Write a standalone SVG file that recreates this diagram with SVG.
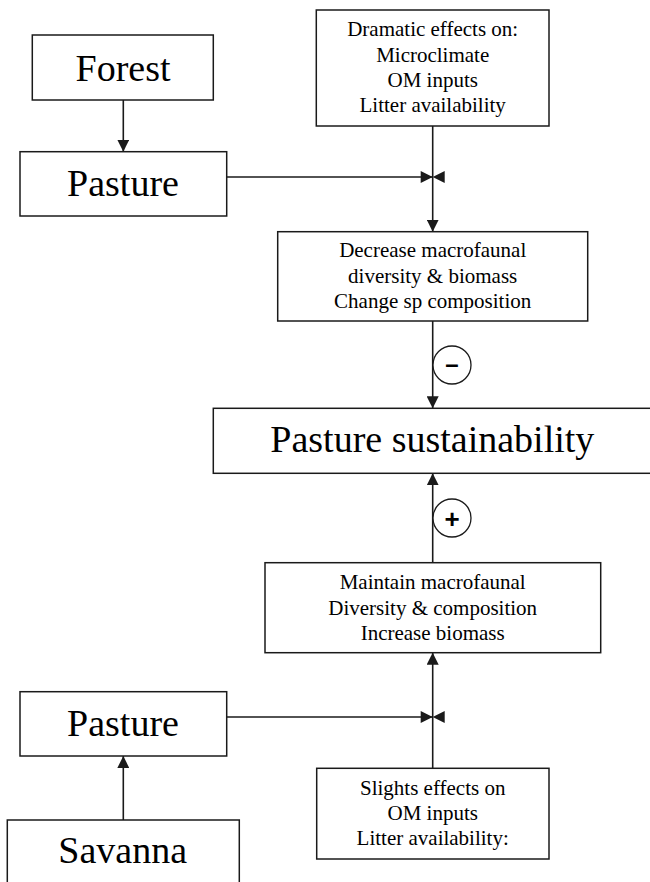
<svg xmlns="http://www.w3.org/2000/svg" xmlns:xlink="http://www.w3.org/1999/xlink" width="650" height="882" viewBox="0 0 650 882">
<style>
.box{fill:#fff;stroke:#1a1a1a;stroke-width:1.5}
.big{font-family:"Liberation Serif","Times New Roman",serif;font-size:38px;fill:#000;text-anchor:middle}
.sm{font-family:"Liberation Serif","Times New Roman",serif;font-size:21px;fill:#000;text-anchor:middle}
.ln{stroke:#1a1a1a;stroke-width:1.6;fill:none}
.sign{font-family:"Liberation Sans",Arial,sans-serif;font-weight:bold;fill:#000;text-anchor:middle}
.circ{fill:#fff;stroke:#1a1a1a;stroke-width:1.3}
</style>
<defs>
<marker id="arr" markerUnits="userSpaceOnUse" markerWidth="12" markerHeight="12" refX="12" refY="6" orient="auto">
<path d="M0,0 L12,6 L0,12 z" fill="#1a1a1a"/>
</marker>
<path id="bowtie" d="M-12,-6 L0,0 L-12,6 z M12,-6 L0,0 L12,6 z" fill="#1a1a1a"/>
</defs>
<rect width="650" height="882" fill="#fff"/>
<g id="connectors">
<line class="ln" x1="123.3" y1="100" x2="123.3" y2="151.7" marker-end="url(#arr)"/>
<line class="ln" x1="226.7" y1="177" x2="432.7" y2="177"/>
<use xlink:href="#bowtie" href="#bowtie" x="432.7" y="177"/>
<line class="ln" x1="432.7" y1="126" x2="432.7" y2="231.7" marker-end="url(#arr)"/>
<line class="ln" x1="432.7" y1="321" x2="432.7" y2="408.3" marker-end="url(#arr)"/>
<line class="ln" x1="432.7" y1="562.7" x2="432.7" y2="473.3" marker-end="url(#arr)"/>
<line class="ln" x1="432.7" y1="768.3" x2="432.7" y2="652.7" marker-end="url(#arr)"/>
<line class="ln" x1="226.7" y1="717" x2="432.7" y2="717"/>
<use xlink:href="#bowtie" href="#bowtie" x="432.7" y="717"/>
<line class="ln" x1="123.3" y1="820" x2="123.3" y2="756" marker-end="url(#arr)"/>
<g id="minus">
<circle class="circ" cx="452" cy="365" r="19"/>
<text class="sign" x="452" y="372" font-size="24">–</text>
</g>
<g id="plus">
<circle class="circ" cx="452" cy="518" r="19"/>
<text class="sign" x="452" y="527.5" font-size="26">+</text>
</g>
</g>
<g id="forest">
<rect class="box" x="32.3" y="35" width="181" height="65"/>
<text class="big" x="123" y="80.7">Forest</text>
</g>
<g id="pasture-top">
<rect class="box" x="20" y="151.7" width="206.7" height="64.3"/>
<text class="big" x="123" y="196">Pasture</text>
</g>
<g id="dramatic">
<rect class="box" x="316.3" y="10" width="232.7" height="116"/>
<text class="sm" x="432.7" y="36">Dramatic effects on:</text>
<text class="sm" x="432.7" y="62">Microclimate</text>
<text class="sm" x="432.7" y="87">OM inputs</text>
<text class="sm" x="432.7" y="112">Litter availability</text>
</g>
<g id="decrease">
<rect class="box" x="277.7" y="231.7" width="310" height="89.3"/>
<text class="sm" x="432.7" y="257.3">Decrease macrofaunal</text>
<text class="sm" x="432.7" y="283">diversity &amp; biomass</text>
<text class="sm" x="432.7" y="308.3">Change sp composition</text>
</g>
<g id="sustainability">
<rect class="box" x="213.3" y="408.3" width="440" height="65"/>
<text class="big" x="432.3" y="451.7">Pasture sustainability</text>
</g>
<g id="maintain">
<rect class="box" x="265" y="562.7" width="335.7" height="90"/>
<text class="sm" x="432.7" y="589.3">Maintain macrofaunal</text>
<text class="sm" x="432.7" y="615">Diversity &amp; composition</text>
<text class="sm" x="432.7" y="640">Increase biomass</text>
</g>
<g id="pasture-bottom">
<rect class="box" x="20" y="691.7" width="206.7" height="64.3"/>
<text class="big" x="123" y="736">Pasture</text>
</g>
<g id="slights">
<rect class="box" x="316.7" y="768.3" width="232.3" height="90.7"/>
<text class="sm" x="432.7" y="795">Slights effects on</text>
<text class="sm" x="432.7" y="819.5">OM inputs</text>
<text class="sm" x="432.7" y="845">Litter availability:</text>
</g>
<g id="savanna">
<rect class="box" x="7.3" y="820" width="232" height="70"/>
<text class="big" x="122.7" y="863.3">Savanna</text>
</g>
</svg>
